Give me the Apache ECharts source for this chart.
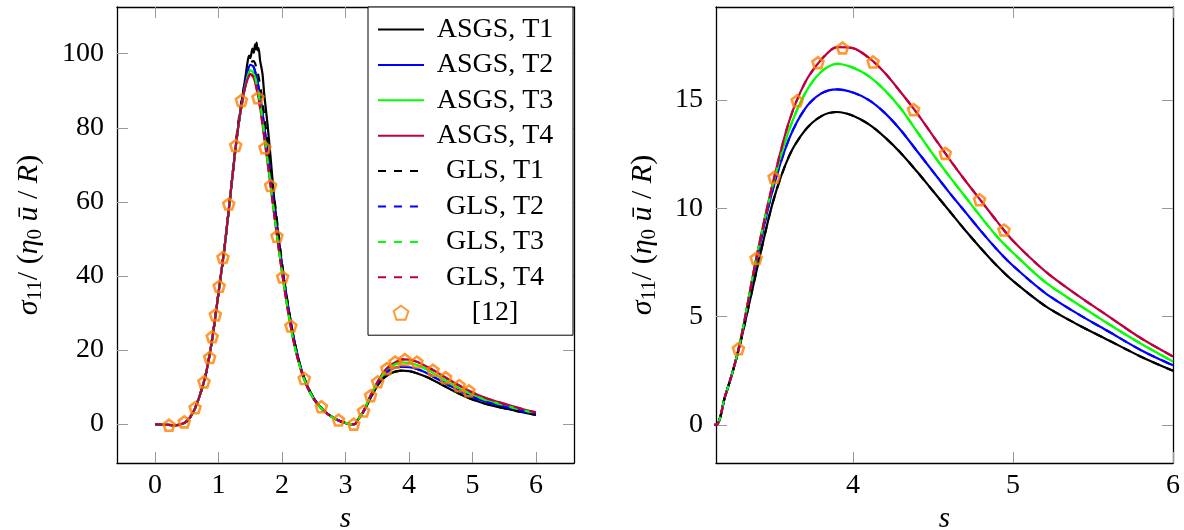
<!DOCTYPE html>
<html>
<head>
<meta charset="utf-8">
<script src="https://cdn.jsdelivr.net/npm/echarts@6/dist/echarts.min.js"></script>
<style>html,body{margin:0;padding:0;background:#fff}#c{width:1184px;height:530px}</style>
</head>
<body>
<div id="c"></div>
<script>
// ---- data ----
const s = [0, 0.15, 0.3, 0.4, 0.5, 0.6, 0.7, 0.8, 0.9, 1.0,
  1.1, 1.2, 1.3, 1.4, 1.45, 1.5, 1.55, 1.6, 1.65, 1.7,
  1.8, 1.9, 2.0, 2.1, 2.2, 2.3, 2.4, 2.5, 2.6, 2.7,
  2.8, 2.9, 3.0, 3.08, 3.144, 3.2, 3.25, 3.3, 3.4, 3.5,
  3.6, 3.7, 3.8, 3.9, 4.0, 4.1, 4.2, 4.3, 4.4, 4.5,
  4.6, 4.7, 4.8, 4.9, 5.0, 5.2, 5.4, 5.6, 5.8, 6.0];

const sT1 = [0, 0.15, 0.3, 0.4, 0.5, 0.6, 0.7, 0.8, 0.9, 1.0, 1.1, 1.2, 1.3,
  1.35, 1.4, 1.43, 1.455, 1.48, 1.5, 1.534, 1.555, 1.575, 1.586,
  1.6, 1.613, 1.63, 1.654, 1.691, 1.72, 1.77, 1.82, 1.874, 1.95,
  2.0, 2.1, 2.2, 2.3, 2.4, 2.5, 2.6, 2.7, 2.8, 2.9,
  3.0, 3.08, 3.144, 3.2, 3.25, 3.3, 3.4, 3.5, 3.6, 3.7,
  3.8, 3.9, 4.0, 4.1, 4.2, 4.3, 4.4, 4.5, 4.6, 4.7,
  4.8, 4.9, 5.0, 5.2, 5.4, 5.6, 5.8, 6.0];

const asgsT1 = [0, -0.1, -0.3, -0.1, 0.8, 3.2, 7.5, 13.5, 23, 35.5, 48.5, 64, 79,
  85.5, 91, 94.5, 97.5, 99.5, 98.8, 101.4, 100.2, 102.5, 101.2,
  103, 100.9, 101.5, 98.2, 94.7, 89, 81.2, 72, 61.3, 50,
  43, 31.5, 22, 15, 10.3, 7, 4.7, 3.0, 1.8, 0.9,
  0.3, 0, 0, 1.3, 2.5, 3.9, 7.2, 10.3, 12.4, 13.6,
  14.25, 14.45, 14.28, 13.88, 13.28, 12.55, 11.7, 10.8, 9.9, 9.0,
  8.15, 7.35, 6.65, 5.5, 4.65, 3.9, 3.15, 2.5];

const asgsT2 = [0, -0.1, -0.3, -0.1, 0.8, 3.2, 7.5, 13.5, 23, 35.5,
  48.5, 64, 79, 90, 94.5, 97, 96.5, 93.5, 89, 83,
  69.5, 55.5, 42.5, 31, 21.8, 14.8, 10.1, 6.9, 4.6, 3.0,
  1.8, 0.9, 0.3, 0.0, 0.0, 1.3, 2.5, 3.95, 7.7, 10.9,
  13.2, 14.6, 15.3, 15.5, 15.35, 15.0, 14.4, 13.6, 12.65, 11.7,
  10.75, 9.85, 8.95, 8.1, 7.35, 6.1, 5.15, 4.3, 3.45, 2.75];

const asgsT3 = [0, -0.1, -0.3, -0.1, 0.8, 3.2, 7.5, 13.5, 23, 35.5,
  48.5, 64, 79, 89.5, 93.3, 95.5, 94.8, 91.8, 87.2, 81.0,
  67.5, 53.8, 41.2, 30, 21, 14.5, 10, 6.8, 4.6, 3.0,
  1.8, 0.9, 0.3, 0.0, 0.0, 1.3, 2.5, 4.0, 7.85, 11.1,
  13.6, 15.3, 16.3, 16.68, 16.5, 16.1, 15.45, 14.6, 13.55, 12.5,
  11.5, 10.55, 9.6, 8.7, 7.95, 6.6, 5.6, 4.65, 3.75, 2.93];

const asgsT4 = [0, -0.1, -0.3, -0.1, 0.8, 3.2, 7.5, 13.5, 23, 35.5,
  48.5, 64, 79, 89.5, 92.7, 94.5, 93.6, 90.5, 86, 80,
  67, 53.5, 41, 30, 21, 14.5, 10, 6.8, 4.6, 3.0,
  1.8, 0.9, 0.3, 0.0, 0.0, 1.3, 2.5, 4.0, 7.85, 11.2,
  14.0, 15.8, 16.85, 17.45, 17.4, 16.95, 16.25, 15.35, 14.4, 13.35,
  12.3, 11.3, 10.35, 9.4, 8.5, 7.1, 6.0, 5.0, 4.0, 3.16];

const glsT1 = [0, -0.1, -0.3, -0.1, 0.8, 3.2, 7.5, 13.5, 23, 35.5,
  48.5, 64, 80, 91, 95, 97.5, 98, 96, 92, 86,
  72, 58, 43.5, 31.5, 22, 15, 10.3, 7, 4.7, 3.0,
  1.8, 0.9, 0.3, 0.0, 0.0, 1.3, 2.5, 3.9, 7.2, 10.3,
  12.4, 13.6, 14.25, 14.45, 14.28, 13.88, 13.28, 12.55, 11.7, 10.8,
  9.9, 9.0, 8.15, 7.35, 6.65, 5.5, 4.65, 3.9, 3.15, 2.5];
const glsT2 = asgsT2.slice();
const glsT3 = asgsT3.slice();
const glsT4 = asgsT4.slice();

const sRef = [0.22, 0.46, 0.63, 0.77, 0.86, 0.90, 0.95, 1.01, 1.07, 1.16, 1.27, 1.36,
  1.62, 1.73, 1.82, 1.92, 2.01, 2.14, 2.35, 2.62, 2.89, 3.13,
  3.284, 3.395, 3.507, 3.651, 3.781, 3.935, 4.126, 4.379, 4.577, 4.791, 4.944];
const vRef = [-0.3, 0.6, 4.4, 11.4, 18.0, 23.6, 29.5, 37.2, 45.0, 59.4, 75.2, 87.4,
  88.1, 74.6, 64.4, 50.7, 39.7, 26.5, 12.3, 4.7, 1.1, 0.0,
  3.52, 7.69, 11.43, 14.97, 16.73, 17.41, 16.76, 14.56, 12.54, 10.40, 9.0];

const xTicksLeft = [0, 1, 2, 3, 4, 5, 6];
const yTicksLeft = [0, 20, 40, 60, 80, 100];
const xTicksRight = [4, 5, 6];
const yTicksRight = [0, 5, 10, 15];

// ---- chart ----
const FONT = 'Liberation Serif';
const C = {T1: '#000000', T2: '#0000ff', T3: '#00ff00', T4: '#bf0040', ref: '#ff8000'};
const pairs = (xs, ys) => xs.map((x, i) => [x, ys[i]]);

const grids = [
  {left: 117, top: 7, width: 457, height: 456, containLabel: false, outerBoundsMode: 'none'},
  {left: 716, top: 7, width: 457, height: 456, containLabel: false, outerBoundsMode: 'none'}
];

function xAx(gi, pos, min, max, ticks, labels) {
  return {
    type: 'value', gridIndex: gi, position: pos, min: min, max: max,
    axisLine: {show: true, onZero: false, lineStyle: {color: '#000', width: 1.3}},
    axisTick: {show: true, inside: true, length: 11, customValues: ticks, lineStyle: {color: '#999', width: 1}},
    axisLabel: {show: labels, customValues: ticks, margin: 9, color: '#000', fontFamily: FONT, fontSize: 28},
    splitLine: {show: false},
    name: labels ? 's' : '', nameLocation: 'middle', nameGap: 42,
    nameTextStyle: {fontFamily: FONT, fontStyle: 'italic', fontSize: 29, color: '#000'}
  };
}
const yName = '{i|σ}{b|11}{n|/ (}{i|η}{b|0}{n| }{i|ū}{n| / }{i|R}{n|)}';
function yAx(gi, pos, min, max, ticks, labels, gap) {
  return {
    type: 'value', gridIndex: gi, position: pos, min: min, max: max,
    axisLine: {show: true, onZero: false, lineStyle: {color: '#000', width: 1.3}},
    axisTick: {show: true, inside: true, length: 11, customValues: ticks, lineStyle: {color: '#999', width: 1}},
    axisLabel: {show: labels, customValues: ticks, margin: 13, color: '#000', fontFamily: FONT, fontSize: 28},
    splitLine: {show: false},
    name: labels ? yName : '', nameLocation: 'middle', nameGap: gap || 50,
    nameTextStyle: {
      color: '#000', fontFamily: FONT, fontSize: 30,
      rich: {
        i: {fontFamily: FONT, fontStyle: 'italic', fontSize: 30, lineHeight: 34, color: '#000'},
        n: {fontFamily: FONT, fontSize: 30, lineHeight: 34, color: '#000'},
        b: {fontFamily: FONT, fontSize: 21, lineHeight: 34, verticalAlign: 'bottom', color: '#000'}
      }
    }
  };
}

const xAxes = [
  xAx(0, 'bottom', -0.6, 6.6, xTicksLeft, true),
  xAx(0, 'top', -0.6, 6.6, xTicksLeft, false),
  xAx(1, 'bottom', 3.144, 6, xTicksRight, true),
  xAx(1, 'top', 3.144, 6, xTicksRight, false)
];
const yAxes = [
  yAx(0, 'left', -10.5, 112.6, yTicksLeft, true, 71),
  yAx(0, 'right', -10.5, 112.6, yTicksLeft, false),
  yAx(1, 'left', -1.76, 19.3, yTicksRight, true, 56),
  yAx(1, 'right', -1.76, 19.3, yTicksRight, false)
];

const lineDefs = [
  {name: 'ASGS, T1', xs: sT1, ys: asgsT1, color: C.T1, dash: 'solid'},
  {name: 'ASGS, T2', xs: s, ys: asgsT2, color: C.T2, dash: 'solid'},
  {name: 'ASGS, T3', xs: s, ys: asgsT3, color: C.T3, dash: 'solid'},
  {name: 'ASGS, T4', xs: s, ys: asgsT4, color: C.T4, dash: 'solid'},
  {name: 'GLS, T1', xs: s, ys: glsT1, color: C.T1, dash: [8, 8]},
  {name: 'GLS, T2', xs: s, ys: glsT2, color: C.T2, dash: [8, 8]},
  {name: 'GLS, T3', xs: s, ys: glsT3, color: C.T3, dash: [8, 8]},
  {name: 'GLS, T4', xs: s, ys: glsT4, color: C.T4, dash: [8, 8]}
];
const pent = 'path://M0,-1 L0.951,-0.309 L0.588,0.809 L-0.588,0.809 L-0.951,-0.309 Z';

const series = [];
[0, 1].forEach(gi => {
  lineDefs.forEach(d => {
    series.push({
      type: 'line', name: d.name, xAxisIndex: gi * 2, yAxisIndex: gi * 2,
      data: pairs(d.xs, d.ys), showSymbol: false, symbol: 'none',
      smooth: 0.3, clip: true,
      lineStyle: {color: d.color, width: 2.2, type: d.dash},
      itemStyle: {color: d.color},
      emphasis: {disabled: true}
    });
  });
  series.push({
    type: 'scatter', name: '[12]', xAxisIndex: gi * 2, yAxisIndex: gi * 2,
    data: pairs(sRef, vRef), symbol: pent, symbolSize: 11, clip: true,
    itemStyle: {color: 'rgba(255,255,255,0)', borderColor: C.ref, borderWidth: 2.6},
    emphasis: {disabled: true}, z: 3
  });
});

const legendData = lineDefs.map(d => ({name: d.name, itemStyle: {opacity: 0}}));
legendData.push({name: '[12]'});

const chart = echarts.init(document.getElementById('c'), null, {renderer: 'canvas'});
chart.setOption({
  animation: false,
  backgroundColor: '#fff',
  grid: grids,
  xAxis: xAxes,
  yAxis: yAxes,
  legend: {
    orient: 'vertical', left: 368, top: 7,
    padding: [5, 12, 5, 9], itemGap: 0.4, itemWidth: 46, itemHeight: 14,
    backgroundColor: '#fff', borderColor: '#000', borderWidth: 1, borderRadius: 0,
    data: legendData,
    formatter: n => '{c|' + n + '}',
    textStyle: {
      fontFamily: FONT, fontSize: 28, color: '#000', lineHeight: 35,
      rich: {c: {width: 132, align: 'center', fontFamily: FONT, fontSize: 28, lineHeight: 35, color: '#000'}}
    },
    selectedMode: false
  },
  series: series
});
</script>
</body>
</html>
